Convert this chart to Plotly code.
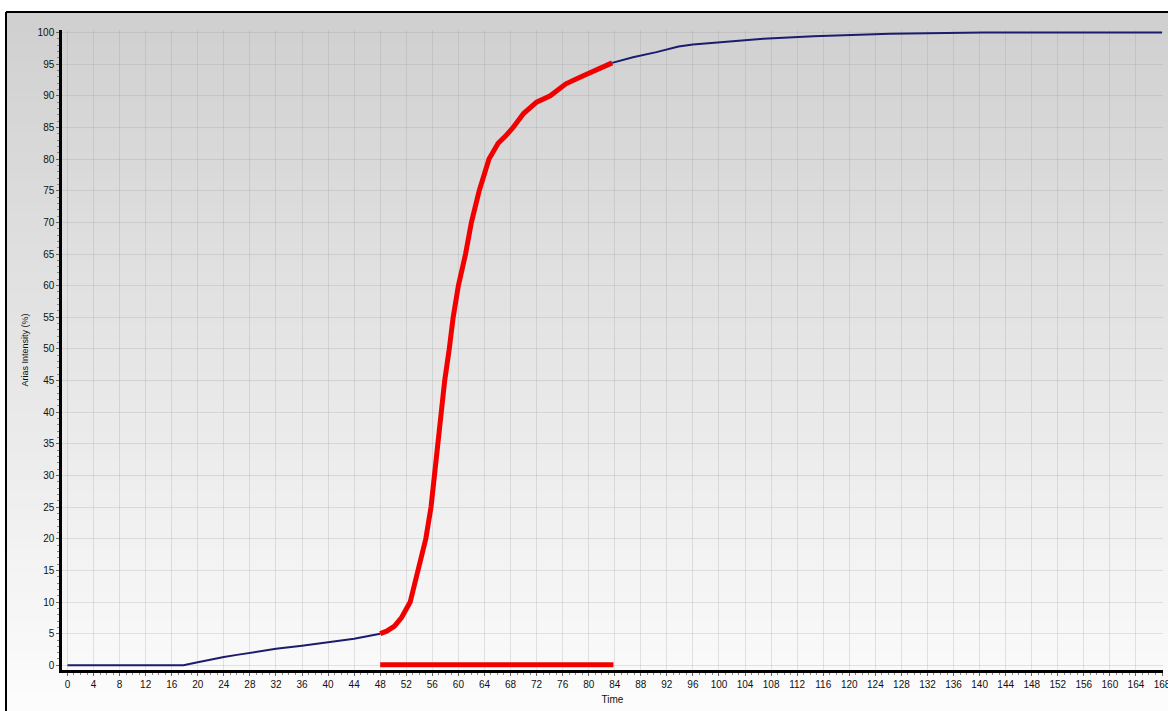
import plotly.graph_objects as go

# ---- data ----
time_pre = [0, 17.8, 20, 22, 24, 26, 28, 32, 36, 40, 44, 48]
ai_pre = [0, 0, 0.5, 0.95, 1.3, 1.65, 2.0, 2.6, 3.1, 3.6, 4.2, 5.0]

time_main = [48, 49, 50.2, 51.3, 52.6, 53.8, 55.0, 55.8, 56.3, 56.8, 57.3, 57.9, 58.6,
             59.2, 60.0, 61.1, 62.0, 63.2, 64.7, 66.1, 67.2, 68.4, 70.0, 72.0, 74.1,
             76.5, 79.0, 81.5, 83.0, 83.6]
ai_main = [5.0, 5.4, 6.2, 7.6, 10, 15, 20, 25, 30, 35, 40, 45, 50,
           55, 60, 65, 70, 75, 80, 82.5, 83.6, 85, 87.2, 89.0, 90,
           91.9, 93.1, 94.3, 95, 95.2]

time_post = [83.6, 86.8, 90.4, 93.8, 96, 99.6, 106.8, 114.5, 120.4, 126.2, 140.6, 168]
ai_post = [95.2, 96.1, 96.9, 97.8, 98.1, 98.4, 99.0, 99.4, 99.6, 99.8, 100, 100]

significant_interval = [48, 83.8]
interval_level = [0.1, 0.1]

x_tick_step = 4
y_tick_step = 5

W, H = 1168, 711
ML, MR, MT, MB = 62, 5, 30, 41
PW, PH = W - ML - MR, H - MT - MB


def px_x(p):
    return (p - ML) / PW


def px_y(p):
    return (H - MB - p) / PH


fig = go.Figure()

navy = "#1c1c6e"
fig.add_trace(go.Scatter(x=time_pre, y=ai_pre, mode="lines",
                         line=dict(color=navy, width=2), hoverinfo="skip", showlegend=False))
fig.add_trace(go.Scatter(x=time_post, y=ai_post, mode="lines",
                         line=dict(color=navy, width=2), hoverinfo="skip", showlegend=False))
fig.add_trace(go.Scatter(x=time_main, y=ai_main, mode="lines",
                         line=dict(color="#f20000", width=5), hoverinfo="skip", showlegend=False))
fig.add_trace(go.Scatter(x=significant_interval, y=interval_level, mode="lines",
                         line=dict(color="#f20000", width=5), hoverinfo="skip", showlegend=False))

# gradient background inside outer frame
shapes = []
top_px, bot_px = 12, H
n = 70
for i in range(n):
    y0p = top_px + (bot_px - top_px) * i / n
    y1p = top_px + (bot_px - top_px) * (i + 1) / n
    f = (i + 0.5) / n
    c = int(208 + (253 - 208) * f)
    shapes.append(dict(type="rect", xref="paper", yref="paper",
                       x0=px_x(6), x1=px_x(W + 2), y0=px_y(y1p + 0.5), y1=px_y(y0p),
                       fillcolor=f"rgb({c},{c},{c})", line=dict(width=0), layer="below"))
# outer frame lines
shapes.append(dict(type="line", xref="paper", yref="paper", x0=px_x(6), x1=px_x(6),
                   y0=px_y(H + 2), y1=px_y(12), line=dict(color="black", width=2), layer="above"))
shapes.append(dict(type="line", xref="paper", yref="paper", x0=px_x(6), x1=px_x(W + 2),
                   y0=px_y(12), y1=px_y(12), line=dict(color="black", width=2), layer="above"))

font_family = "Liberation Sans, Arial, sans-serif"
grid_c = "rgba(150,150,150,0.25)"
minor_cfg = dict(dtick=1, tick0=0, ticks="outside", ticklen=2, tickcolor="#888", showgrid=False)

fig.update_layout(
    width=W, height=H,
    margin=dict(l=ML, r=MR, t=MT, b=MB, pad=0, autoexpand=False),
    paper_bgcolor="white",
    plot_bgcolor="rgba(0,0,0,0)",
    shapes=shapes,
    font=dict(family=font_family, size=10, color="#111"),
    xaxis=dict(
        range=[-0.84, 168.15], tickmode="linear", tick0=0, dtick=x_tick_step,
        showgrid=True, gridcolor=grid_c, gridwidth=1,
        showline=True, linecolor="black", linewidth=2.5,
        ticks="outside", ticklen=3, tickcolor="#666", tickwidth=1,
        minor=minor_cfg, ticklabeloverflow="allow", automargin=False,
        zeroline=False, tickfont=dict(size=10),
        title=dict(text="Time", font=dict(size=10), standoff=8),
    ),
    yaxis=dict(
        range=[-0.74, 100.4], tickmode="linear", tick0=0, dtick=y_tick_step,
        showgrid=True, gridcolor=grid_c, gridwidth=1,
        showline=True, linecolor="black", linewidth=2.5,
        ticks="outside", ticklen=3, tickcolor="#666", tickwidth=1,
        minor=minor_cfg, automargin=False,
        zeroline=False, tickfont=dict(size=10),
        title=dict(text="Arias Intensity (%)", font=dict(size=9), standoff=8),
    ),
)

fig.write_html("out.html", config={"displayModeBar": False},
               post_script="document.body.style.margin='0';document.body.style.padding='0';")
